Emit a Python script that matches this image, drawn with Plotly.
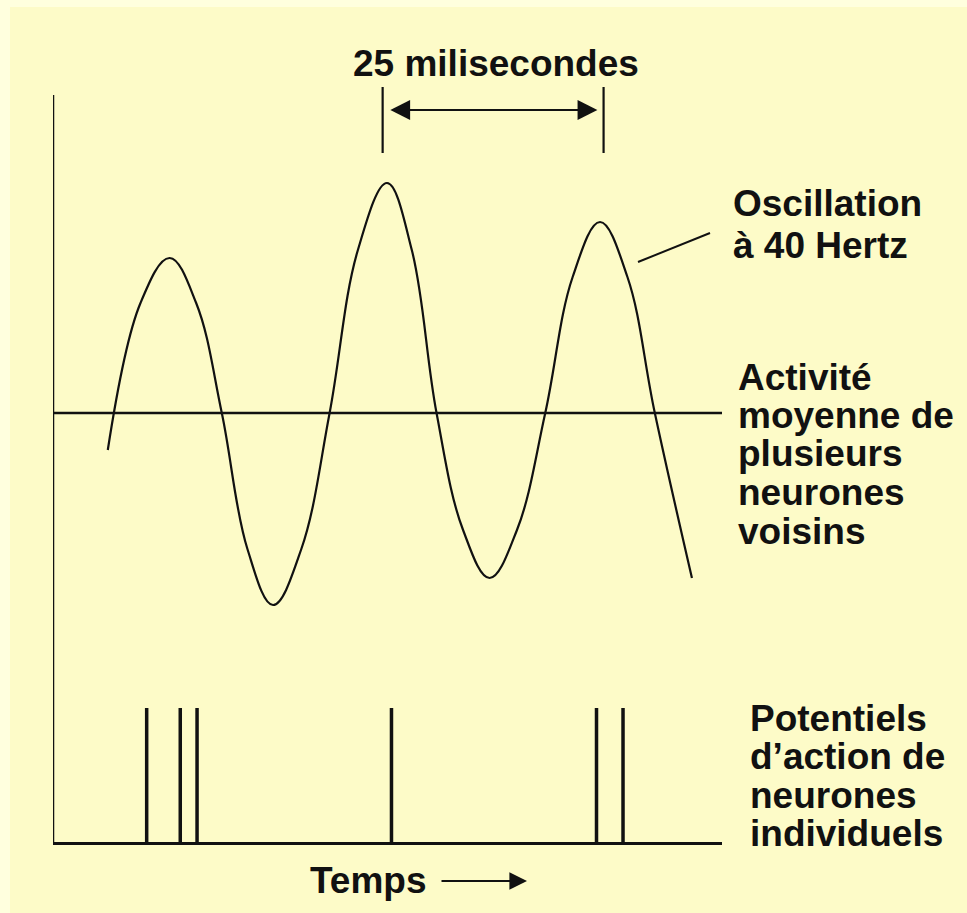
import plotly.graph_objects as go

# ---- data -------------------------------------------------------------
# time in milliseconds, potential in arbitrary units (0 = mean activity)
wave_t = [6.2, 9.9, 13.2, 16.2, 19.1, 22.0, 24.9, 28.1, 31.3, 34.5, 37.8,
          40.6, 43.4, 46.4, 49.4, 52.5, 55.7, 58.8, 61.9, 65.0, 68.1, 72.3]
wave_v = [-0.37, 1.10, 1.55, 1.10, 0.0, -1.36, -1.92, -1.36, 0.0, 1.63, 2.30,
          1.63, 0.0, -1.17, -1.65, -1.17, 0.0, 1.36, 1.91, 1.36, 0.0, -1.65]

spike_t = [10.6, 14.4, 16.3, 38.3, 61.5, 64.5]
spike_top = -2.95

period_marks = [37.3, 62.3]          # 25 ms apart
period_label = "25 milisecondes"

osc_label = ["Oscillation", "à 40 Hertz"]
mean_label = ["Activité", "moyenne de", "plusieurs", "neurones", "voisins"]
spike_label = ["Potentiels", "d’action de", "neurones", "individuels"]
time_label = "Temps"

X_MAX = 75.7
Y_MIN, Y_MAX = -4.29, 3.73
Y_AXIS_TOP = 3.18

# ---- layout geometry (canvas pixels) ----------------------------------
W, H = 967, 913
L, R, T, B = 53, 722, 40, 842


def px(x):
    return (x - L) / (R - L)


def py(y):
    return (B - y) / (B - T)


INK = "#111111"
FONT = dict(family="Liberation Sans, Arial, sans-serif", size=37, color=INK, weight="bold")

fig = go.Figure()

# vertical axis line
fig.add_trace(go.Scatter(x=[0, 0], y=[Y_MIN, Y_AXIS_TOP], mode="lines",
                         line=dict(color=INK, width=2.5), hoverinfo="skip"))
# mean activity baseline
fig.add_trace(go.Scatter(x=[0, X_MAX], y=[0, 0], mode="lines",
                         line=dict(color=INK, width=2.5), hoverinfo="skip"))
# 40 Hz oscillation
fig.add_trace(go.Scatter(x=wave_t, y=wave_v, mode="lines",
                         line=dict(color=INK, width=2.2, shape="spline", smoothing=1.1),
                         hoverinfo="skip"))
# individual action potentials
sx, sy = [], []
for t in spike_t:
    sx += [t, t, None]
    sy += [Y_MIN, spike_top, None]
fig.add_trace(go.Scatter(x=sx, y=sy, mode="lines",
                         line=dict(color=INK, width=3.5), hoverinfo="skip"))
# period tick marks
mx, my = [], []
for t in period_marks:
    mx += [t, t, None]
    my += [2.60, 3.26, None]
fig.add_trace(go.Scatter(x=mx, y=my, mode="lines",
                         line=dict(color=INK, width=2.2), hoverinfo="skip"))

annotations = []
# double arrow between the period marks
annotations.append(dict(x=period_marks[1] - 0.7, y=3.03, xref="x", yref="y",
                        ax=period_marks[0] + 0.7, ay=3.03, axref="x", ayref="y",
                        showarrow=True, arrowhead=2, arrowside="end+start",
                        arrowsize=1.8, arrowwidth=2.2, arrowcolor=INK, text=""))
annotations.append(dict(x=px(496), y=py(63), xref="paper", yref="paper",
                        text=period_label, showarrow=False, font=FONT,
                        xanchor="center", yanchor="middle"))


def label_block(lines, x_left, y_first, step):
    for i, line in enumerate(lines):
        annotations.append(dict(x=px(x_left), y=py(y_first + i * step),
                                xref="paper", yref="paper", text=line,
                                showarrow=False, font=FONT,
                                xanchor="left", yanchor="middle"))


label_block(osc_label, 731, 203, 42)
label_block(mean_label, 736, 377, 38.5)
label_block(spike_label, 748, 718, 38.5)

annotations.append(dict(x=px(308), y=py(880), xref="paper", yref="paper",
                        text=time_label, showarrow=False, font=FONT,
                        xanchor="left", yanchor="middle"))
annotations.append(dict(x=px(527), y=py(881), xref="paper", yref="paper",
                        ax=-87, ay=0, axref="pixel", ayref="pixel",
                        showarrow=True, arrowhead=2, arrowsize=1.6,
                        arrowwidth=2.2, arrowcolor=INK, text=""))

shapes = [
    # page tint
    dict(type="rect", xref="paper", yref="paper", layer="below",
         x0=px(10), x1=px(W + 5), y0=py(H + 5), y1=py(7),
         fillcolor="#FDFBC8", line=dict(width=0)),
    # leader line to the oscillation label
    dict(type="line", xref="paper", yref="paper",
         x0=px(638), y0=py(262), x1=px(710), y1=py(233),
         line=dict(color=INK, width=2)),
]

fig.update_layout(
    width=W, height=H,
    margin=dict(l=L, r=W - R, t=T, b=H - B),
    paper_bgcolor="#FFFFDE", plot_bgcolor="rgba(0,0,0,0)",
    showlegend=False,
    xaxis=dict(range=[0, X_MAX], showgrid=False, zeroline=False,
               showticklabels=False, ticks="", showline=True,
               linecolor=INK, linewidth=2.5, fixedrange=True),
    yaxis=dict(range=[Y_MIN, Y_MAX], showgrid=False, zeroline=False,
               showticklabels=False, ticks="", showline=False, fixedrange=True),
    annotations=annotations,
    shapes=shapes,
)

fig.write_html("out.html", config={"displayModeBar": False})
